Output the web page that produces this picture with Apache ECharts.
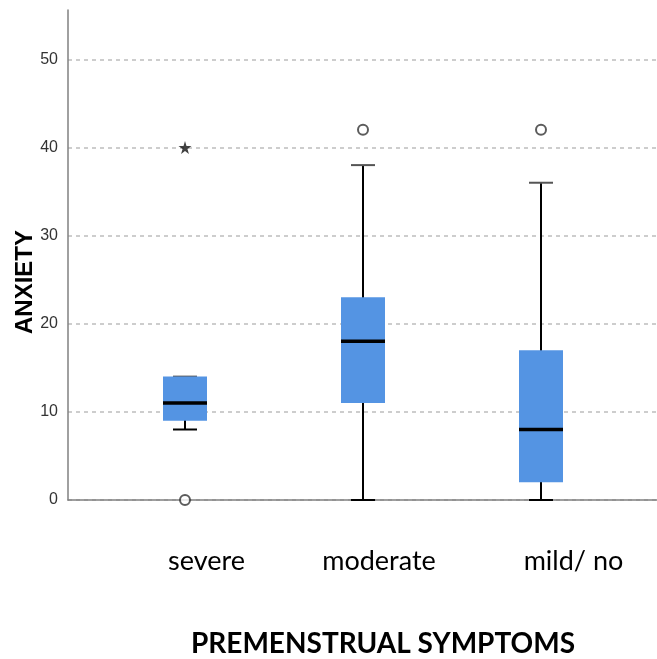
<!DOCTYPE html>
<html><head><meta charset="utf-8">
<script src="https://cdn.jsdelivr.net/npm/echarts@6/dist/echarts.min.js"></script>
<style>html,body{margin:0;padding:0;background:#fff}#c{width:657px;height:659px}</style>
</head><body><div id="c"></div>
<script>
const categories = ['severe', 'moderate', 'mild/ no'];
// [min whisker, Q1, median, Q3, max whisker]
const boxValues = [
  [8, 9, 11, 14, 14],
  [0, 11, 18, 23, 38],
  [0, 2, 8, 17, 36]
];
const circleOutliers = [[0, 0], [1, 42], [2, 42]];
const starOutliers = [[0, 40]];
const yTicks = [0, 10, 20, 30, 40, 50];

const chart = echarts.init(document.getElementById('c'), null, {renderer: 'canvas'});
const boxData = boxValues.map((v, i) => [i].concat(v));
const labelShift = [43, 32, 65];
const rich = {};
categories.forEach((c, i) => { rich['c' + i] = {padding: [0, 0, 0, labelShift[i]], fontSize: 27, color: '#000', fontFamily: 'Lato'}; });

function renderItem(params, api) {
  const x = api.value(0);
  const lo = api.coord([x, api.value(1)]);
  const q1 = api.coord([x, api.value(2)]);
  const md = api.coord([x, api.value(3)]);
  const q3 = api.coord([x, api.value(4)]);
  const hi = api.coord([x, api.value(5)]);
  const cx = lo[0], bw = 44, cw = 24;
  const ls = {stroke: '#000', lineWidth: 2};
  return {type: 'group', children: [
    {type: 'line', shape: {x1: cx, y1: lo[1], x2: cx, y2: hi[1]}, style: ls},
    {type: 'line', shape: {x1: cx - cw/2, y1: lo[1], x2: cx + cw/2, y2: lo[1]}, style: ls},
    {type: 'line', shape: {x1: cx - cw/2, y1: hi[1], x2: cx + cw/2, y2: hi[1]}, style: {stroke: '#555', lineWidth: 2}},
    {type: 'rect', shape: {x: cx - bw/2, y: q3[1], width: bw, height: q1[1] - q3[1]}, style: {fill: '#5494E3'}},
    {type: 'line', shape: {x1: cx - bw/2, y1: md[1], x2: cx + bw/2, y2: md[1]}, style: {stroke: '#000', lineWidth: 3.5}}
  ]};
}

const option = {
  backgroundColor: '#fff',
  animation: false,
  grid: [
    {left: 68, right: 0, top: 10, bottom: 159, outerBoundsMode: 'none', containLabel: false},
    {left: 96, width: 534, top: 10, bottom: 159, outerBoundsMode: 'none', containLabel: false}
  ],
  xAxis: [
    {gridIndex: 0, type: 'value', min: 0, max: 1,
     axisLine: {show: true, onZero: false, lineStyle: {color: '#808080', width: 1.5}},
     axisTick: {show: false}, axisLabel: {show: false}, splitLine: {show: false},
     name: 'PREMENSTRUAL SYMPTOMS', nameLocation: 'middle', nameGap: 130, nameMoveOverlap: false,
     nameTextStyle: {fontSize: 28, fontWeight: 'bold', color: '#000', fontFamily: 'Lato', padding: [0, 0, 0, 41]}},
    {gridIndex: 1, type: 'category', data: categories,
     axisLine: {show: false}, axisTick: {show: false},
     axisLabel: {margin: 48, formatter: (v, i) => '{c' + i + '|' + v + '}', rich: rich}}
  ],
  yAxis: [
    {gridIndex: 0, type: 'value', min: 0, max: 55.6, interval: 10,
     axisLine: {show: true, lineStyle: {color: '#808080', width: 1.5}},
     axisTick: {show: false},
     axisLabel: {showMaxLabel: false, fontSize: 16, color: '#333', fontFamily: 'Liberation Sans', margin: 10,
       formatter: v => (yTicks.indexOf(v) >= 0 ? String(v) : '')},
     splitLine: {show: true, showMaxLine: false, lineStyle: {color: '#bdbdbd', type: [4, 4], width: 1.5}},
     name: 'ANXIETY', nameLocation: 'middle', nameGap: 31, nameMoveOverlap: false,
     nameTextStyle: {fontSize: 24, fontWeight: 'bold', color: '#000', fontFamily: 'Liberation Sans', padding: [0, 54, 0, 0]}},
    {gridIndex: 1, type: 'value', min: 0, max: 55.6, show: false}
  ],
  series: [
    {type: 'custom', xAxisIndex: 1, yAxisIndex: 1, renderItem: renderItem,
     encode: {x: 0, y: [1, 2, 3, 4, 5]}, data: boxData, z: 3},
    {type: 'scatter', xAxisIndex: 1, yAxisIndex: 1, data: circleOutliers,
     symbol: 'emptyCircle', symbolSize: 10, itemStyle: {color: '#333', borderColor: '#333', borderWidth: 1.5}, z: 4},
    {type: 'scatter', xAxisIndex: 1, yAxisIndex: 1, data: starOutliers,
     symbol: 'path://M50,0 L61,35 L98,35 L68,57 L79,91 L50,70 L21,91 L32,57 L2,35 L39,35 Z',
     symbolSize: 13, itemStyle: {color: '#111'}, z: 4}
  ]
};
chart.setOption(option);
</script></body></html>
